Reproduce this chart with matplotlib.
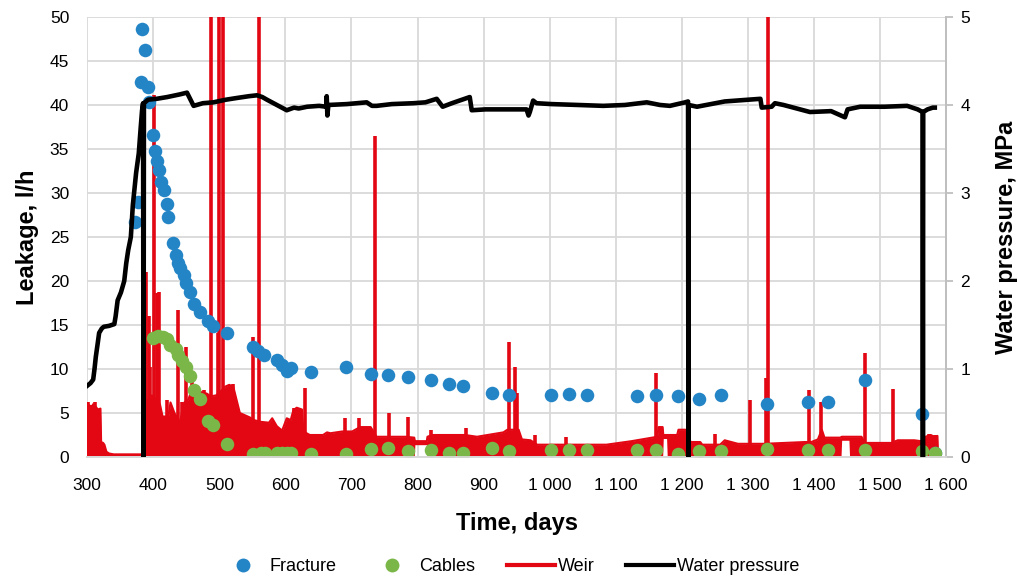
import matplotlib.pyplot as plt
import matplotlib.ticker as mticker
from matplotlib.lines import Line2D

plt.rcParams['font.family'] = ['Liberation Sans', 'DejaVu Sans']

# Fracture leakage (l/h)
fracture_day = [372, 377, 381, 383, 387, 392, 393, 399, 402, 405, 408, 412, 416, 420, 423,
                430, 435, 437, 441, 447, 450, 455, 461, 471, 483, 491, 512, 551, 559, 567,
                587, 595, 602, 609, 639, 692, 730, 756, 786, 820, 848, 869, 913, 939, 1002,
                1030, 1057, 1132, 1161, 1195, 1226, 1259, 1329, 1391, 1421, 1478, 1563, 1583]
fracture_val = [26.7, 29.0, 42.6, 48.6, 46.3, 42.0, 40.3, 36.6, 34.8, 33.6, 32.6, 31.2, 30.3, 28.8, 27.3,
                24.3, 22.9, 22.0, 21.5, 20.7, 19.8, 18.8, 17.4, 16.5, 15.5, 14.9, 14.1, 12.5, 12.0, 11.6,
                11.0, 10.4, 9.8, 10.1, 9.7, 10.2, 9.4, 9.3, 9.1, 8.7, 8.3, 8.1, 7.3, 7.0, 7.0,
                7.2, 7.0, 6.9, 7.0, 6.9, 6.6, 7.0, 6.0, 6.2, 6.2, 8.7, 4.9, 0.4]

# Cables leakage (l/h)
cables_day = [399, 407, 414, 420, 426, 434, 437, 443, 450, 455, 461, 471, 483, 491, 512,
              551, 563, 569, 587, 595, 602, 608, 639, 692, 730, 756, 786, 820, 848, 869,
              913, 939, 1002, 1030, 1057, 1132, 1161, 1195, 1226, 1259, 1329, 1391, 1421,
              1478, 1563, 1583]
cables_val = [13.5, 13.7, 13.6, 13.4, 12.7, 12.3, 11.6, 10.9, 10.2, 9.2, 7.6, 6.6, 4.1, 3.6, 1.5,
              0.3, 0.45, 0.45, 0.45, 0.5, 0.5, 0.45, 0.35, 0.35, 0.9, 1.0, 0.7, 0.8, 0.45, 0.45,
              1.0, 0.7, 0.8, 0.8, 0.8, 0.8, 0.8, 0.35, 0.7, 0.7, 0.9, 0.8, 0.8,
              0.8, 0.7, 0.45]

# Weir leakage (l/h): dense band (upper envelope / lower edge) and single spikes
weir_day = [300, 303, 306, 309, 312, 316, 320, 321, 324, 326, 329, 333, 340, 384,
            386, 392, 398, 404, 410, 414, 423, 426, 432, 440, 447, 453, 458, 464, 471, 481,
            487, 495, 500, 509, 515, 521, 526, 531, 546, 552, 562, 575, 580, 587, 595,
            602, 608, 612, 617, 625, 627, 632, 637, 657, 663, 668, 686, 701, 713, 729,
            738, 756, 782, 795, 796, 814, 815, 822, 872, 890, 930, 936, 953, 958, 971,
            981, 1023, 1086, 1124, 1163, 1165, 1171, 1172, 1177, 1178, 1193, 1195, 1205,
            1210, 1213, 1228, 1231, 1258, 1265, 1285, 1325, 1386, 1396, 1406, 1412, 1416,
            1441, 1442, 1453, 1454, 1472, 1477, 1517, 1527, 1552, 1562, 1569, 1577, 1582,
            1587, 1588]
weir_top = [5.5, 5.9, 5.6, 6.0, 5.8, 5.4, 5.5, 1.7, 1.6, 1.4, 0.6, 0.4, 0.3, 0.3,
            6.0, 6.5, 7.0, 6.5, 6.0, 4.6, 4.6, 6.2, 5.0, 3.9, 6.2, 6.5, 7.6, 6.3, 7.4, 7.2,
            6.9, 7.0, 7.3, 8.0, 8.2, 8.0, 6.5, 5.0, 4.5, 4.2, 4.0, 3.9, 4.4, 3.5, 3.0,
            4.4, 4.2, 5.3, 5.6, 5.4, 3.0, 2.7, 2.5, 2.5, 2.8, 2.7, 2.9, 2.9, 3.4, 3.4,
            2.3, 2.3, 2.3, 2.2, 1.8, 1.8, 2.3, 2.5, 2.5, 2.3, 2.8, 3.1, 3.1, 2.0, 1.9,
            1.4, 1.4, 1.4, 1.8, 2.3, 3.4, 3.4, 2.5, 2.5, 2.5, 2.5, 3.1, 3.1,
            3.0, 1.7, 1.7, 1.4, 1.4, 1.9, 1.5, 1.5, 1.7, 1.7, 2.0, 3.1, 2.2,
            2.2, 2.3, 2.3, 2.3, 2.3, 1.6, 1.6, 1.9, 1.9, 1.8, 2.3, 2.5, 2.3,
            2.4, 0.0]
weir_low = [0] * len(weir_day)
for gap_day, gap_low in [(796, 1.4), (814, 1.4), (1172, 2.1), (1177, 2.1), (1442, 1.9), (1453, 1.9)]:
    weir_low[weir_day.index(gap_day)] = gap_low

spike_day = [301, 305, 311, 389, 393, 395, 401, 405, 409, 420, 437, 444, 450, 458, 465, 476,
             488, 498, 499, 505, 520, 551, 560, 613, 630, 690, 711, 736, 757, 786, 820, 873,
             939, 948, 950, 978, 1024, 1161, 1250, 1303, 1328, 1331, 1392, 1410, 1478, 1520,
             1574, 1583]
spike_val = [6.2, 5.9, 6.2, 21.0, 16.0, 10.2, 41.1, 18.6, 18.8, 6.5, 16.7, 6.2, 12.5, 8.5, 7.6, 7.6,
             60, 14.1, 60, 60, 8.3, 13.6, 60, 5.6, 7.8, 4.4, 4.4, 36.5, 5.0, 4.6, 3.1, 3.3,
             13.1, 10.2, 7.3, 2.5, 2.3, 9.5, 2.6, 6.5, 9.0, 60, 7.6, 6.3, 11.8, 7.7,
             2.6, 2.5]

# Water pressure (MPa)
pressure_day = [300, 305, 309, 311, 313, 316, 318, 322, 325, 333, 341, 343, 346, 351, 356,
                359, 362, 366, 369, 374, 378, 381, 383, 384.5, 385.2, 385.8, 392, 405, 421,
                440, 451, 461, 475, 491, 510, 527, 545, 557, 565, 572, 582, 592, 602, 613,
                620, 633, 651, 662, 662.5, 663.5, 665, 693, 723, 731, 738, 761, 794, 812,
                829, 838, 852, 879, 882, 903, 955, 965, 968, 970, 975, 980, 1003, 1043,
                1081, 1114, 1147, 1167, 1182, 1205, 1209.5, 1210, 1210.5, 1223, 1265, 1319,
                1321, 1336, 1341, 1354, 1394, 1426, 1447, 1451, 1470, 1507, 1541, 1557,
                1564.5, 1565, 1565.5, 1572, 1580, 1583]
pressure_val = [0.81, 0.84, 0.88, 1.0, 1.14, 1.3, 1.41, 1.46, 1.48, 1.49, 1.51, 1.6, 1.78, 1.87, 2.0,
                2.2, 2.35, 2.5, 2.86, 3.23, 3.45, 3.75, 3.94, 4.02, 0.0, 4.02, 4.06, 4.07, 4.09,
                4.12, 4.14, 3.99, 4.02, 4.03, 4.06, 4.08, 4.10, 4.11, 4.09, 4.06, 4.02, 3.98, 3.94, 3.97,
                3.96, 3.98, 3.99, 3.98, 4.10, 3.88, 4.0, 4.01, 4.03, 3.99, 3.99, 4.01, 4.02, 4.03,
                4.07, 3.98, 4.02, 4.09, 3.94, 3.95, 3.95, 3.95, 3.88, 3.92, 4.05, 4.02, 4.01, 4.0,
                3.99, 4.0, 4.03, 4.0, 3.99, 4.03, 4.04, 0.0, 4.0, 3.98, 4.04, 4.07,
                3.97, 3.98, 4.02, 4.0, 3.92, 3.93, 3.86, 3.95, 3.98, 3.98, 3.99, 3.95,
                3.92, 0.0, 3.92, 3.95, 3.97, 3.97]

grid_c = '#d9d9d9'
fig = plt.figure(figsize=(10.18, 5.79), dpi=100)
ax = fig.add_axes([0.0857, 0.2107, 0.8436, 0.76])
ax2 = ax.twinx()

red = '#e30613'
ax.fill_between(weir_day, weir_low, weir_top, color=red, lw=0, zorder=2)
ax.plot(weir_day, weir_top, color=red, lw=1.5, zorder=2)
ax.vlines(spike_day, 0, spike_val, color=red, lw=2.6, zorder=2)
ax.scatter(fracture_day, fracture_val, s=95, color='#2384c6', zorder=3, lw=0)
ax.scatter(cables_day, cables_val, s=95, color='#7ab648', zorder=4, lw=0)
ax2.plot(pressure_day, pressure_val, color='black', lw=3.3, zorder=5)

ax.set_xlim(300, 1600)
ax.set_ylim(0, 50)
ax2.set_ylim(0, 5)
ax.set_xticks(range(300, 1601, 100))
ax.set_yticks(range(0, 51, 5))
ax2.set_yticks(range(0, 6))
ax.xaxis.set_major_formatter(mticker.FuncFormatter(lambda v, p: f"{int(v):,}".replace(",", " ")))
ax.grid(True, color=grid_c, lw=1.3)
ax.set_axisbelow(True)

for a in (ax, ax2):
    for s in ('top', 'left'):
        a.spines[s].set_visible(False)
    a.spines['right'].set_color('#bfbfbf')
    a.spines['bottom'].set_color(grid_c)
    a.spines['right'].set_linewidth(1.3)
    a.spines['bottom'].set_linewidth(1.3)
ax.tick_params(axis='both', length=0, labelsize=12.5, colors='#000000')
ax.tick_params(axis='x', pad=15)
ax.tick_params(axis='y', pad=13)
ax2.tick_params(axis='y', length=5, width=1.3, color='#bfbfbf', labelsize=12.5, pad=5.5)

ax.set_xlabel('Time, days', fontsize=17, fontweight='bold', labelpad=14)
ax.set_ylabel('Leakage, l/h', fontsize=17, fontweight='bold', labelpad=8)
ax2.set_ylabel('Water pressure, MPa', fontsize=17, fontweight='bold', labelpad=18)

handles = [Line2D([], [], ls='none', marker='o', ms=10, color='#2384c6', mec='none'),
           Line2D([], [], ls='none', marker='o', ms=10, color='#7ab648', mec='none'),
           Line2D([], [], color=red, lw=3),
           Line2D([], [], color='black', lw=3)]
fig.legend(handles, ['Fracture', 'Cables', 'Weir', 'Water pressure'], loc='lower center',
           bbox_to_anchor=(0.5, -0.022), ncol=4, frameon=False, fontsize=13,
           handlelength=2.67, handletextpad=0.15, columnspacing=1.75)

fig.savefig('out.png', dpi=100)
